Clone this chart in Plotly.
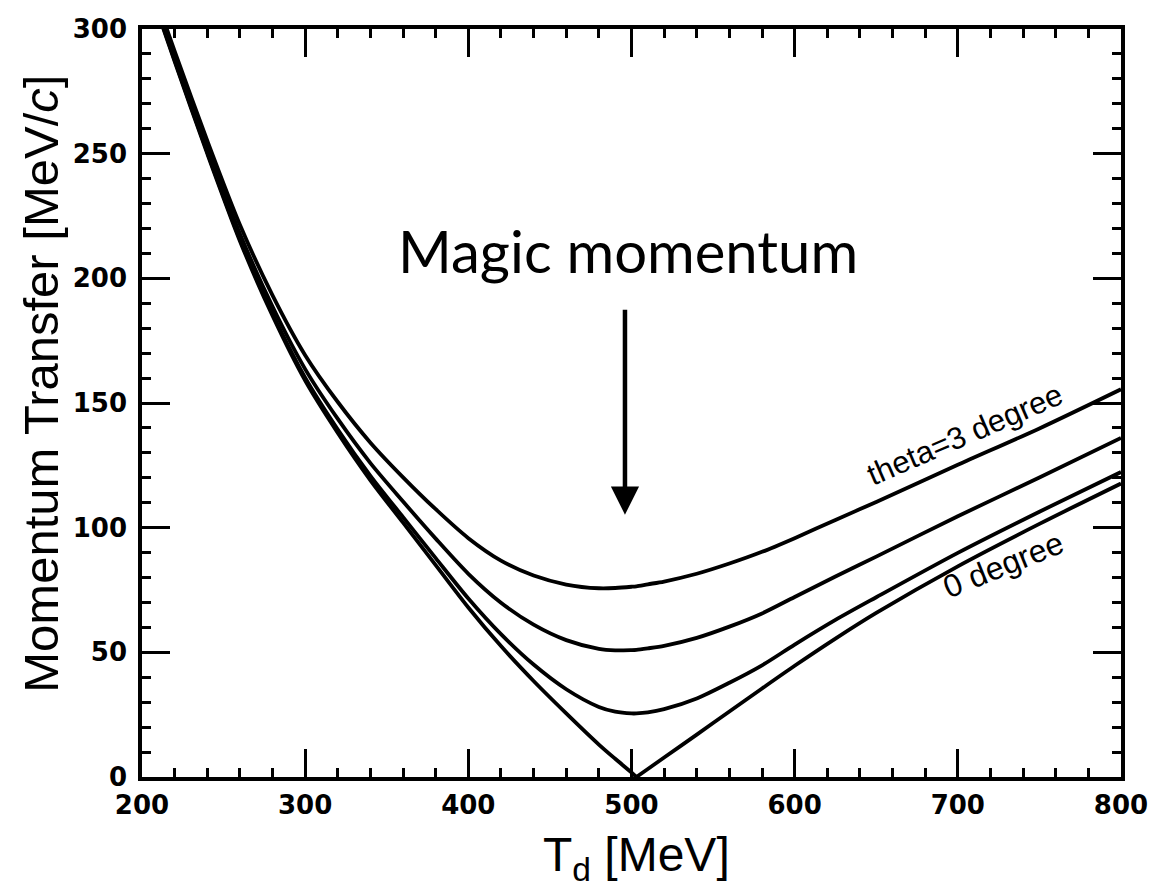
import plotly.graph_objects as go

# Deuteron kinetic energy T_d [MeV]
T = [210, 220, 240, 260, 280, 300, 320, 340, 360, 380, 400, 420, 440, 460, 480,
     490, 500, 503, 510, 520, 540, 560, 580, 600, 625, 650, 700, 750, 800]
# Momentum transfer [MeV/c] for theta = 0, 1, 2, 3 degree
q_0deg = [306, 287, 250, 215, 185, 159, 138, 119, 102, 85, 68, 52.5, 38.5, 25.5, 13,
          7.3, 1.8, 0, 3.2, 7.8, 17, 26.3, 35.5, 44.6, 55.5, 65.8, 84.5, 101.5, 117.7]
q_1deg = [306.4, 287.5, 250.6, 215.7, 185.9, 160.2, 139.4, 120.8, 104.2, 87.8, 71.6,
          57.3, 45.1, 35.2, 28.1, 26.2, 25.5, 25.5, 25.9, 27.2, 31.5, 37.8, 44.8,
          53.1, 63.0, 72.1, 89.9, 106.4, 122.3]
q_2deg = [307.7, 288.8, 252.3, 217.9, 188.7, 163.6, 143.6, 125.9, 110.5, 95.6, 81.5,
          69.9, 61.1, 54.9, 51.4, 50.8, 50.9, 51.0, 51.6, 52.6, 55.8, 60.3, 65.6,
          72.2, 80.4, 88.4, 104.6, 120.1, 136.0]
q_3deg = [309.7, 291.1, 255.2, 221.5, 193.2, 169.2, 150.4, 134.1, 120.2, 107.4, 95.8,
          86.8, 80.8, 77.2, 75.7, 75.8, 76.3, 76.5, 77.3, 78.4, 81.5, 85.6, 90.3,
          95.8, 103.1, 110.3, 125.2, 139.8, 155.5]

x_ticks = [200, 300, 400, 500, 600, 700, 800]
y_ticks = [0, 50, 100, 150, 200, 250, 300]

line = dict(color="black", width=3.8, shape="spline", smoothing=0.8)
fig = go.Figure()
# 0 degree: two smooth branches meeting in a sharp V at the zero crossing
k = q_0deg.index(0)
fig.add_trace(go.Scatter(x=T[:k + 1], y=q_0deg[:k + 1], mode="lines", line=line,
                         showlegend=False, hoverinfo="skip"))
fig.add_trace(go.Scatter(x=T[k:], y=q_0deg[k:], mode="lines", line=line,
                         showlegend=False, hoverinfo="skip"))
for q in (q_1deg, q_2deg, q_3deg):
    fig.add_trace(go.Scatter(x=T, y=q, mode="lines", line=line,
                             showlegend=False, hoverinfo="skip"))

tickfont = dict(family="DejaVu Sans", size=26, color="black", weight="bold")
common = dict(showline=True, linewidth=3.5, linecolor="black", mirror="ticks",
              ticks="inside", ticklen=28, tickwidth=2.5, tickcolor="black",
              showgrid=False, zeroline=False, tickfont=tickfont)
fig.update_xaxes(range=[200, 800], tickvals=x_ticks, ticklabelstandoff=2,
                 minor=dict(ticks="inside", ticklen=9, tickwidth=2.5,
                            tickcolor="black", dtick=20, showgrid=False),
                 **common)
fig.update_yaxes(range=[0, 300], tickvals=y_ticks, ticklabelstandoff=6,
                 minor=dict(ticks="inside", ticklen=9, tickwidth=2.5,
                            tickcolor="black", dtick=10, showgrid=False),
                 **common)

title_font = dict(family="Liberation Sans", size=49, color="black")
annotations = [
    dict(text="Momentum Transfer [MeV/<i>c</i>]", xref="paper", yref="paper",
         x=-0.104, y=0.526, textangle=-90, showarrow=False,
         xanchor="center", yanchor="middle", font=title_font),
    dict(text="T<sub>d</sub> [MeV]", xref="paper", yref="paper",
         x=0.5056, y=-0.108, showarrow=False, xanchor="center", yanchor="middle",
         font=dict(family="Liberation Sans", size=48, color="black")),
    dict(text="Magic momentum", xref="paper", yref="paper",
         x=0.4964, y=0.7045, showarrow=False, xanchor="center", yanchor="middle",
         font=dict(family="Lato", size=58, color="black")),
    dict(text="", x=496, y=105.2, ax=496, ay=188, xref="x", yref="y",
         axref="x", ayref="y", showarrow=True, arrowhead=2, arrowsize=1.25,
         arrowwidth=4.5, arrowcolor="black"),
    dict(text="theta=3 degree", x=704.3, y=137.5, xref="x", yref="y",
         showarrow=False, textangle=-23.5, xanchor="center", yanchor="middle",
         font=dict(family="Liberation Sans", size=31, color="black")),
    dict(text="0 degree", x=727.5, y=85.1, xref="x", yref="y",
         showarrow=False, textangle=-22, xanchor="center", yanchor="middle",
         font=dict(family="Liberation Sans", size=32, color="black")),
]

fig.update_layout(width=1160, height=882,
                  margin=dict(l=142, r=33, t=29, b=105),
                  plot_bgcolor="white", paper_bgcolor="white",
                  annotations=annotations)

fig.write_html("out.html")
